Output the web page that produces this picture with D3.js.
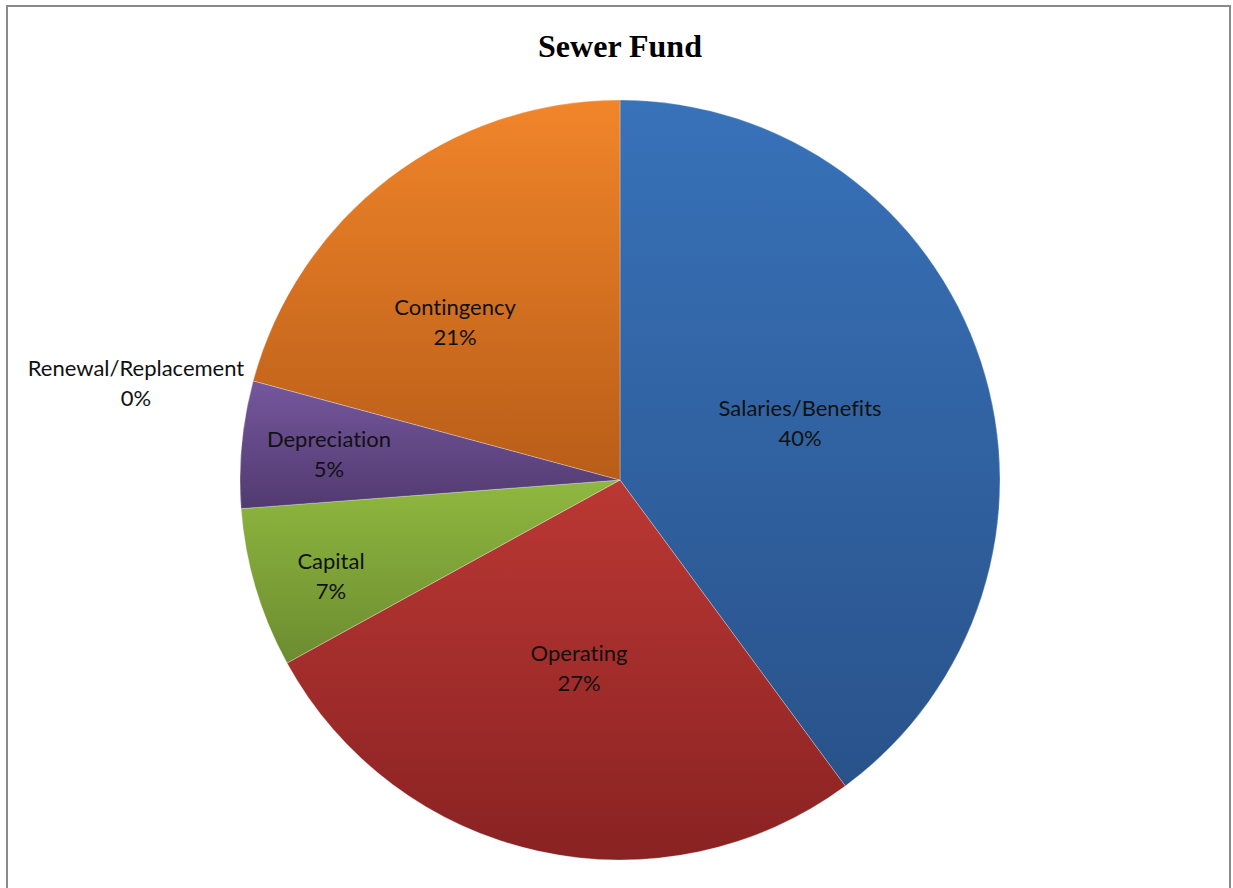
<!DOCTYPE html>
<html>
<head>
<meta charset="utf-8">
<script src="https://cdn.jsdelivr.net/npm/d3@7"></script>
<style>
  html, body { margin: 0; padding: 0; background: #fff; }
  svg { display: block; }
  .label text { font-variant-ligatures: none; }
</style>
</head>
<body>
<svg id="chart" width="1233" height="888"></svg>
<script>
// Sewer Fund budget shares (percent of total)
const categories = ["Salaries/Benefits", "Operating", "Capital", "Depreciation", "Renewal/Replacement", "Contingency"];
const values = [39.9, 27.1, 6.8, 5.4, 0, 20.8];
// Gradient stops per slice: lighter at the top, darker at the bottom
const topColors = ["#3872b9", "#bb3834", "#8fb83f", "#75579d", "#2c9fb8", "#f1852a"];
const bottomColors = ["#29528a", "#892222", "#6c8c30", "#513a70", "#1f7788", "#b85d18"];

const svg = d3.select("#chart");

// Chart area frame
svg.append("rect")
  .attr("x", 7).attr("y", 6)
  .attr("width", 1223).attr("height", 900)
  .attr("fill", "#fff")
  .attr("stroke", "#8a8a8a")
  .attr("stroke-width", 2);

svg.append("text")
  .attr("x", 620).attr("y", 57)
  .attr("text-anchor", "middle")
  .attr("font-family", "'Liberation Serif', 'DejaVu Serif', serif")
  .attr("font-weight", "bold")
  .attr("font-size", 32)
  .attr("fill", "#000")
  .text("Sewer Fund");

const cx = 620, cy = 480, R = 380;

const data = categories.map((c, i) => ({ name: c, value: values[i], i }));
const total = d3.sum(values);

const pie = d3.pie().value(d => d.value).sort(null);
const arcs = pie(data);
const arc = d3.arc().innerRadius(0).outerRadius(R);

const defs = svg.append("defs");
data.forEach((d, i) => {
  const g = defs.append("linearGradient")
    .attr("id", "grad" + i)
    .attr("x1", 0).attr("y1", 0).attr("x2", 0).attr("y2", 1);
  g.append("stop").attr("offset", "0%").attr("stop-color", topColors[i]);
  g.append("stop").attr("offset", "100%").attr("stop-color", bottomColors[i]);
});

const g = svg.append("g").attr("transform", `translate(${cx},${cy})`);

g.selectAll("path.slice")
  .data(arcs.filter(d => d.value > 0))
  .join("path")
  .attr("class", "slice")
  .attr("d", arc)
  .attr("fill", d => `url(#grad${d.data.i})`)
  .attr("stroke", "rgba(255,255,255,0.35)")
  .attr("stroke-width", 0.8);

// Best-fit label placement (offsets from the pie centre)
const labelPos = {
  "Salaries/Benefits": [180, -58],
  "Operating": [-41, 187],
  "Capital": [-289, 95],
  "Depreciation": [-291, -27],
  "Renewal/Replacement": [-484, -98],
  "Contingency": [-165, -159]
};
const fmt = v => Math.round(v / total * 100) + "%";

const labels = g.selectAll("g.label")
  .data(arcs)
  .join("g")
  .attr("class", "label")
  .attr("transform", d => {
    const p = labelPos[d.data.name] || d3.arc().innerRadius(R * 0.6).outerRadius(R * 0.6).centroid(d);
    return `translate(${p[0]},${p[1]})`;
  });

const font = "Lato, 'Open Sans', sans-serif";
labels.append("text")
  .attr("text-anchor", "middle")
  .attr("dominant-baseline", "central")
  .attr("font-family", font)
  .attr("font-size", 22)
  .attr("fill", "#111")
  .attr("y", -15)
  .text(d => d.data.name);

labels.append("text")
  .attr("text-anchor", "middle")
  .attr("dominant-baseline", "central")
  .attr("font-family", font)
  .attr("font-size", 22)
  .attr("fill", "#111")
  .attr("y", 15)
  .text(d => fmt(d.data.value));
</script>
</body>
</html>
